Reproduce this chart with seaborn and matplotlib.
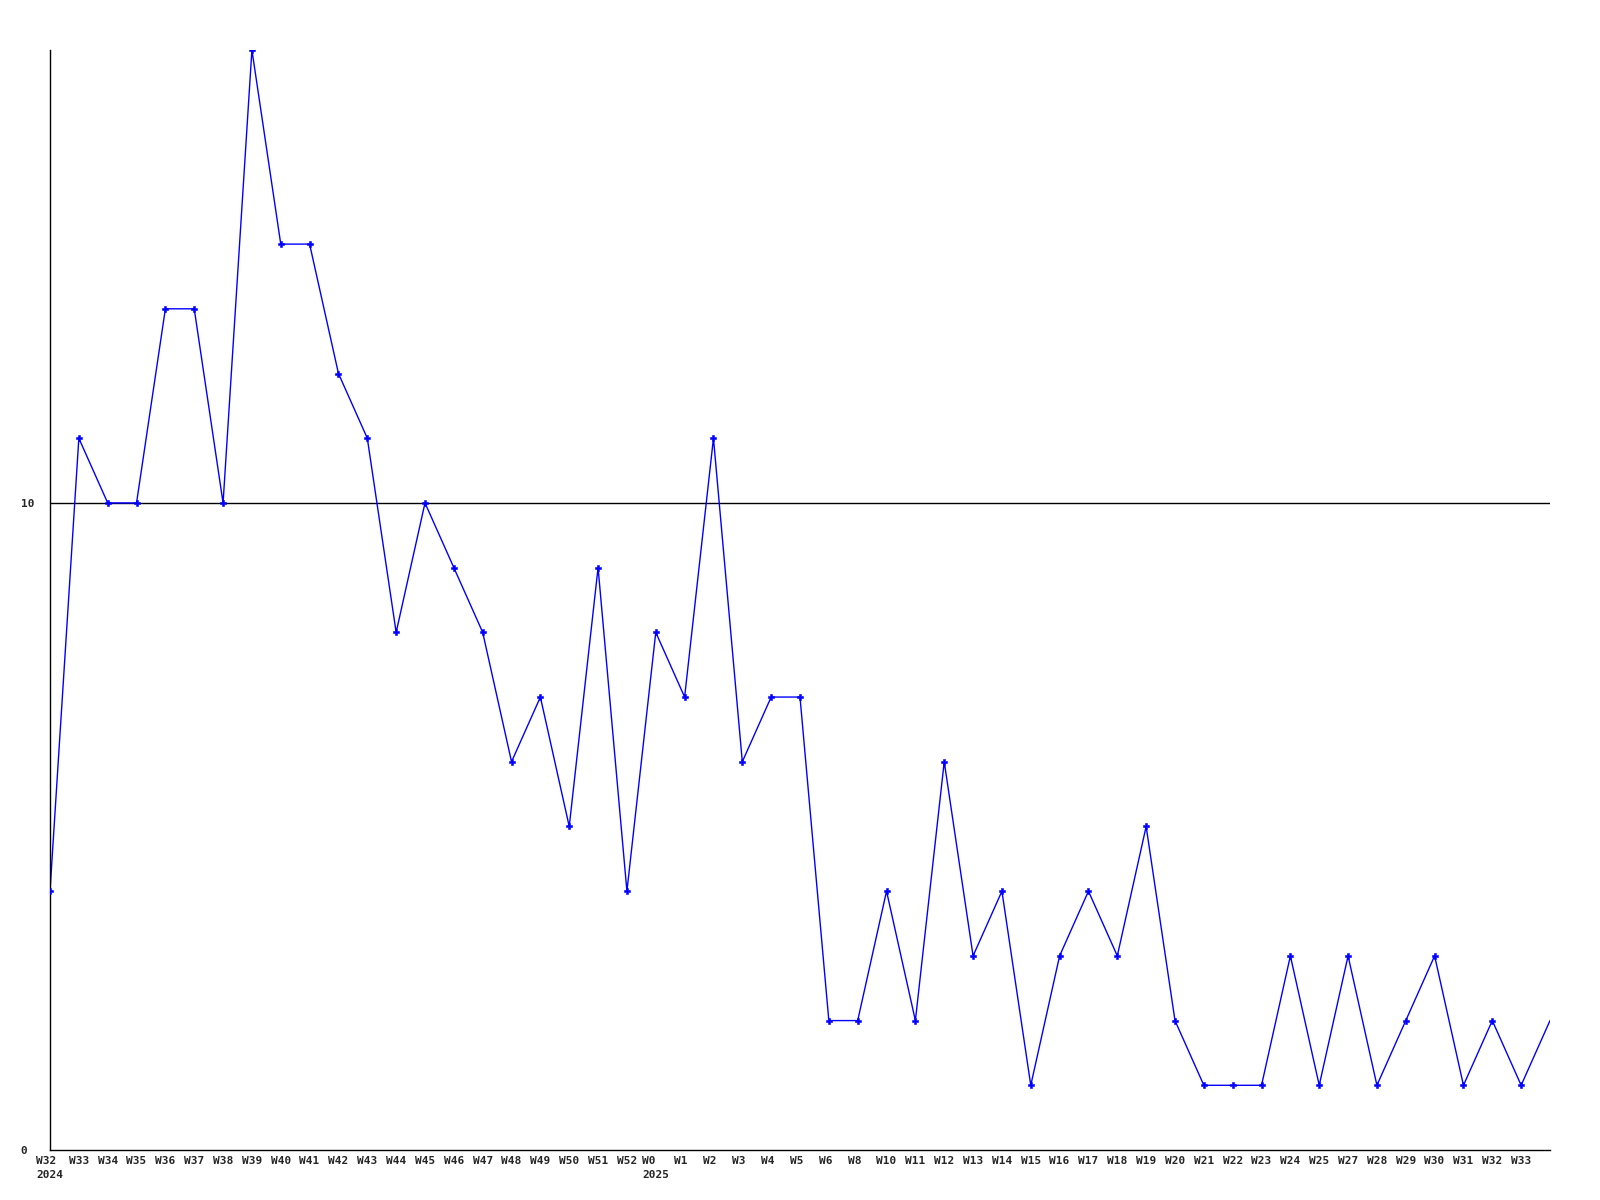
import pandas as pd
import matplotlib.pyplot as plt
import seaborn as sns
import numpy as np

weeks = ["W32\n2024", "W33", "W34", "W35", "W36", "W37", "W38", "W39", "W40", "W41",
         "W42", "W43", "W44", "W45", "W46", "W47", "W48", "W49", "W50", "W51",
         "W52", "W0\n2025", "W1", "W2", "W3", "W4", "W5", "W6", "W8", "W10",
         "W11", "W12", "W13", "W14", "W15", "W16", "W17", "W18", "W19", "W20",
         "W21", "W22", "W23", "W24", "W25", "W27", "W28", "W29", "W30", "W31",
         "W32", "W33", ""]
counts = [4, 11, 10, 10, 13, 13, 10, 17, 14, 14,
          12, 11, 8, 10, 9, 8, 6, 7, 5, 9,
          4, 8, 7, 11, 6, 7, 7, 2, 2, 4,
          2, 6, 3, 4, 1, 3, 4, 3, 5, 2,
          1, 1, 1, 3, 1, 3, 1, 2, 3, 1,
          2, 1, 2]

df = pd.DataFrame({"pos": np.arange(len(counts)), "count": counts})

sns.set_style("white")
plt.rcParams['font.family'] = ['DejaVu Sans Mono', 'DejaVu Sans']

fig = plt.figure(figsize=(16, 12), dpi=100)
ax = fig.add_axes([0.03125, 0.04167, 0.9375, 0.91667])

ax.axhline(10, color="black", linewidth=1, zorder=1)
sns.lineplot(data=df, x="pos", y="count", color="#0000ff", linewidth=1, ax=ax, zorder=2)
sns.scatterplot(data=df.iloc[:-1], x="pos", y="count", color="#0000ff", marker="P",
                s=16, linewidth=0.4, edgecolor="#0000ff", ax=ax, zorder=3)

ax.set_xlim(0, len(counts) - 1)
ax.set_ylim(0, 17)

# pad short labels so they sit left like the original
labels = []
for w in weeks:
    parts = w.split("\n")
    parts[0] = parts[0].ljust(3)
    labels.append("\n".join(parts))
ax.set_xticks(df["pos"])
ax.set_xticklabels(labels, fontsize=8, fontweight="bold", linespacing=1.6)
for t in ax.get_xticklabels():
    t.set_multialignment("left")

ax.set_yticks([0, 10])
ax.set_yticklabels(["0", "10"], fontsize=8, fontweight="bold", ha="left")
ax.tick_params(axis="y", length=0, pad=21)
ax.tick_params(axis="x", length=0, pad=4)

ax.set_xlabel("")
ax.set_ylabel("")
for s in ["top", "right"]:
    ax.spines[s].set_visible(False)
for s in ["left", "bottom"]:
    ax.spines[s].set_color("black")
    ax.spines[s].set_linewidth(1)
ax.grid(False)

fig.savefig("out.png", dpi=100)
